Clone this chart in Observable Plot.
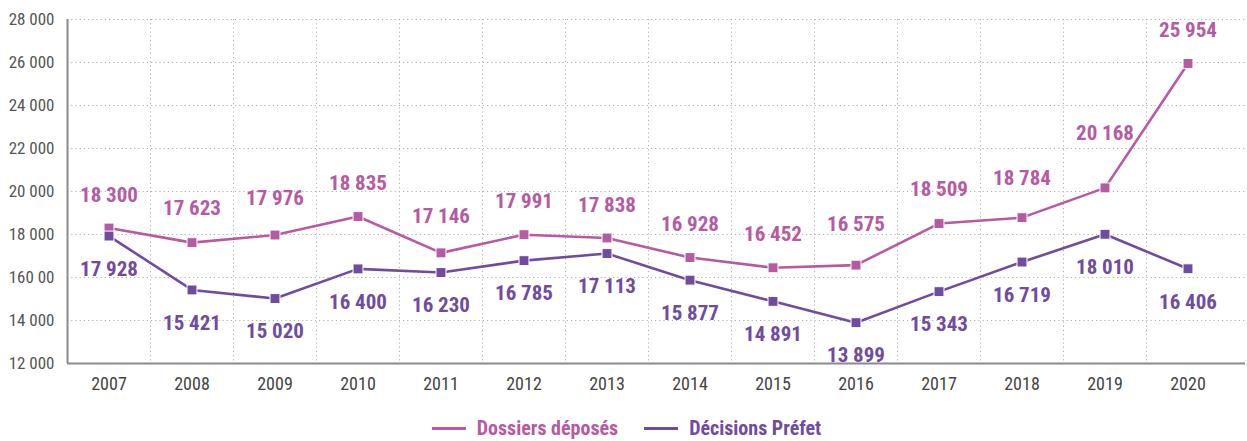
<!DOCTYPE html>
<html>
<head>
<meta charset="utf-8">
<script src="https://cdn.jsdelivr.net/npm/d3@7"></script>
<script src="https://cdn.jsdelivr.net/npm/@observablehq/plot@0.6"></script>
<style>
  html, body { margin: 0; padding: 0; background: #fff; }
  body { width: 1247px; height: 441px; overflow: hidden; font-family: "Roboto Condensed", "Liberation Sans Narrow", "DejaVu Sans Condensed", sans-serif; }
  #legend { display: flex; justify-content: center; align-items: center; gap: 26px; height: 41px; padding-left: 6px; box-sizing: border-box; padding-top: 15px; }
  .item { display: flex; align-items: center; gap: 11px; font-weight: bold; font-size: 20px; }
  .sw { width: 34px; height: 3px; }
</style>
</head>
<body>
<div id="chart"></div>
<div id="legend"></div>
<script>
const years = ["2007","2008","2009","2010","2011","2012","2013","2014","2015","2016","2017","2018","2019","2020"];
const dossiers = [18300,17623,17976,18835,17146,17991,17838,16928,16452,16575,18509,18784,20168,25954];
const decisions = [17928,15421,15020,16400,16230,16785,17113,15877,14891,13899,15343,16719,18010,16406];
const seriesNames = ["Dossiers déposés", "Décisions Préfet"];
const yTicks = [12000,14000,16000,18000,20000,22000,24000,26000,28000];
const yTickLabels = ["12 000","14 000","160 00","18 000","20 000","22 000","24 000","26 000","28 000"];

const colors = {"Dossiers déposés": "#b65aa2", "Décisions Préfet": "#6f4c9f"};
const font = '"Roboto Condensed", "Liberation Sans Narrow", "DejaVu Sans Condensed", sans-serif';
const fmt = v => String(v).replace(/\B(?=(\d{3})+(?!\d))/g, " ");

const rows = [];
years.forEach((y, i) => {
  rows.push({year: y, value: dossiers[i], series: seriesNames[0], next: dossiers[i + 1]});
  rows.push({year: y, value: decisions[i], series: seriesNames[1], next: decisions[i + 1]});
});
const dRows = rows.filter(d => d.series === seriesNames[0]);
const pRows = rows.filter(d => d.series === seriesNames[1]);

const left = 67, right = 1229;
const bw = (right - left) / years.length;
const grid = {stroke: "#b0b0b0", strokeWidth: 1, strokeDasharray: "1.2,3"};
// pixels per data unit (plot height 344 px for 16 000 units)
const pxPerUnit = 344 / 16000;
// push a label further up when the following segment climbs steeply, so it clears the line
const upOffset = d => -33 - Math.min(22, Math.max(0, ((d.next ?? d.value) - d.value) * pxPerUnit) * 0.2);

const labelsUp = dRows.map(d => ({...d, off: upOffset(d)}));

const chart = Plot.plot({
  width: 1247,
  height: 400,
  marginTop: 19,
  marginBottom: 37,
  marginLeft: 67,
  marginRight: 2,
  style: {fontFamily: font, background: "#fff", overflow: "visible"},
  x: {type: "band", domain: years, range: [left, right], padding: 0},
  y: {domain: [12000, 28000]},
  marks: [
    Plot.ruleY(yTicks.slice(1), {...grid}),
    Plot.ruleX(years.slice(1), {...grid, dx: -bw / 2}),
    Plot.ruleY([12000], {stroke: "#8a8a8a", strokeWidth: 2}),
    Plot.ruleX([years[0]], {stroke: "#8a8a8a", strokeWidth: 2, dx: -bw / 2}),
    Plot.axisY({ticks: yTicks, tickFormat: d => yTickLabels[yTicks.indexOf(d)], tickSize: 0, tickPadding: 13, fontSize: 17, fill: "#555", label: null}),
    Plot.axisX({tickSize: 0, tickPadding: 14, fontSize: 18, fill: "#444", label: null}),
    Plot.line(rows, {x: "year", y: "value", z: "series", stroke: d => colors[d.series], strokeWidth: 2.6}),
    Plot.dot(rows, {x: "year", y: "value", symbol: "square", r: 5.6, fill: d => colors[d.series], stroke: "#fff", strokeWidth: 1}),
    ...labelsUp.map(d => Plot.text([d], {x: "year", y: "value", text: d => fmt(d.value), dy: d.off, fill: colors[seriesNames[0]], fontSize: 21, fontWeight: "bold"})),
    Plot.text(pRows, {x: "year", y: "value", text: d => fmt(d.value), dy: 33, fill: colors[seriesNames[1]], fontSize: 21, fontWeight: "bold"})
  ]
});
document.getElementById("chart").appendChild(chart);

const legend = document.getElementById("legend");
seriesNames.forEach(n => {
  const it = document.createElement("div");
  it.className = "item";
  it.style.color = colors[n];
  const sw = document.createElement("span");
  sw.className = "sw";
  sw.style.background = colors[n];
  const t = document.createElement("span");
  t.textContent = n;
  it.appendChild(sw); it.appendChild(t);
  legend.appendChild(it);
});
</script>
</body>
</html>
